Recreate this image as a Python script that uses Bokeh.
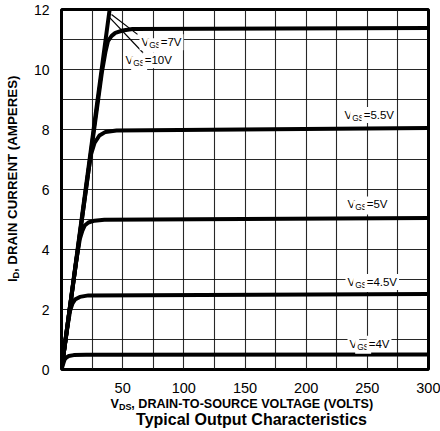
import math
from bokeh.plotting import figure
from bokeh.models import FixedTicker, Label, Range1d
from bokeh.layouts import row, column
from bokeh.embed import file_html
from bokeh.resources import INLINE

# ---------------- data ----------------
vds_4 = [0, 1.5, 2.5, 4, 6, 10, 20, 300]
id_4 = [0, 0.2, 0.33, 0.4, 0.45, 0.48, 0.49, 0.5]

vds_45 = [0, 5, 7, 9, 11, 15, 22, 300]
id_45 = [0, 1.45, 1.95, 2.2, 2.33, 2.42, 2.47, 2.52]

vds_5 = [0, 12, 15, 17, 19, 22, 27, 35, 300]
id_5 = [0, 3.6, 4.35, 4.62, 4.8, 4.9, 4.96, 4.99, 5.05]

vds_55 = [0, 15, 20, 22, 24, 27, 31, 36, 45, 300]
id_55 = [0, 4.5, 6.0, 6.6, 7.15, 7.55, 7.8, 7.92, 7.97, 8.05]

vds_7 = [0, 20, 33, 36, 38, 41, 44, 50, 58, 300]
id_7 = [0, 6.0, 9.9, 10.6, 10.95, 11.12, 11.22, 11.3, 11.35, 11.38]

vds_10 = [0, 20, 40, 44]
id_10 = [0, 6.1, 12.2, 13.4]

curve_names = ["4V", "4.5V", "5V", "5.5V", "7V", "10V"]

x_ticks = [50, 100, 150, 200, 250, 300]
y_ticks = [0, 2, 4, 6, 8, 10, 12]
x_grid = [0, 25, 50, 75, 100, 125, 150, 175, 200, 225, 250, 275, 300]
y_grid = [0, 1, 2, 3, 4, 5, 6, 7, 8, 9, 10, 11, 12]

# ---------------- layout ----------------
W, H = 440, 431
LW = 25            # width of the left strip holding the y title
PH = 395           # height of the main figure
FONT = "Liberation Sans"

FX0, FX1 = 61, 428     # frame edges in page px
FY0, FY1 = 9, 371

ML = FX0 - LW
MR = W - FX1
MT = FY0
MB = PH - FY1


def vx(px):
    return (px - FX0) / ((FX1 - FX0) / 300.0)


def iy(py):
    return (FY1 - py) / ((FY1 - FY0) / 12.0)


p = figure(width=W - LW, height=PH, output_backend="svg", toolbar_location=None,
           x_range=Range1d(0, 300), y_range=Range1d(0, 12),
           min_border_left=ML, min_border_right=MR,
           min_border_top=MT, min_border_bottom=MB)
p.background_fill_color = "white"
p.border_fill_color = "white"
p.outline_line_color = "black"
p.outline_line_width = 3

p.xaxis.ticker = FixedTicker(ticks=x_ticks)
p.yaxis.ticker = FixedTicker(ticks=y_ticks)
p.xgrid.ticker = FixedTicker(ticks=x_grid)
p.ygrid.ticker = FixedTicker(ticks=y_grid)
for g in (p.xgrid, p.ygrid):
    g.grid_line_color = "#111111"
    g.grid_line_width = 1.1
    g.grid_line_alpha = 0.9

for ax in (p.xaxis, p.yaxis):
    ax.axis_line_color = None
    ax.major_tick_line_color = None
    ax.minor_tick_line_color = None
    ax.major_label_text_font = FONT
    ax.major_label_text_font_size = "14px"
    ax.major_label_text_color = "black"
    ax.major_label_standoff = 6
p.xaxis.major_label_standoff = 7
p.xaxis.major_label_text_font_size = "14.5px"

# curves
for xs, ys in [(vds_4, id_4), (vds_45, id_45), (vds_5, id_5),
               (vds_55, id_55), (vds_7, id_7), (vds_10, id_10)]:
    p.line(xs, ys, line_color="black", line_width=4, line_join="round", line_cap="round")

# leader lines for 7V and 10V labels
p.line([vx(111), vx(137)], [iy(14), iy(34)], line_color="black", line_width=1.2)
p.line([vx(108), vx(143)], [iy(16), iy(53)], line_color="black", line_width=1.2)


def vgs_label(px, py, val, size=11.5):
    sub = size * 0.72
    w_v = 0.667 * size
    w_gs = (0.722 + 0.667) * sub
    kw = dict(text_font=FONT, text_color="black", text_baseline="middle",
              text_align="left", background_fill_color="white", padding=2)
    p.add_layout(Label(x=vx(px), y=iy(py), text="V", text_font_size=f"{size}px", **kw))
    p.add_layout(Label(x=vx(px), y=iy(py), text="GS", x_offset=w_v, y_offset=-3,
                       text_font_size=f"{sub:.1f}px", **kw))
    p.add_layout(Label(x=vx(px), y=iy(py), text="=" + val, x_offset=w_v + w_gs,
                       text_font_size=f"{size}px", **kw))


label_pos = {"7V": (139, 42), "10V": (123, 60), "5.5V": (342, 115),
             "5V": (345, 205), "4.5V": (345, 283), "4V": (347, 345)}
for name in curve_names:
    vgs_label(label_pos[name][0], label_pos[name][1], name)


def strip(w, h):
    f = figure(width=w, height=h, output_backend="svg", toolbar_location=None,
               x_range=Range1d(0, w), y_range=Range1d(h, 0),
               x_axis_location=None, y_axis_location=None,
               min_border_left=0, min_border_right=0,
               min_border_top=0, min_border_bottom=0)
    f.outline_line_color = None
    f.grid.visible = False
    f.background_fill_color = "white"
    f.border_fill_color = "white"
    return f


bold = dict(text_font=FONT, text_font_style="bold", text_color="black",
            text_baseline="middle", text_align="left")

# left strip: y-axis title, reading upward
fy = strip(LW, PH)
yx0, yy0 = 12, 299
ang = math.pi / 2
fy.add_layout(Label(x=yx0, y=yy0, text="I", angle=ang, text_font_size="13.3px", **bold))
fy.add_layout(Label(x=yx0 + 3, y=yy0 - 3.9, text="D", angle=ang,
                    text_font_size="9.4px", **bold))
fy.add_layout(Label(x=yx0, y=yy0 - 10.9, text=", DRAIN CURRENT (AMPERES)", angle=ang,
                    text_font_size="13.3px", **bold))

# bottom strip: x-axis title and caption
BH = H - PH
fb = strip(W, BH)
xs0, ys0 = 110, 403 - PH
fb.add_layout(Label(x=xs0, y=ys0, text="V", text_font_size="12.6px", **bold))
fb.add_layout(Label(x=xs0 + 8.4, y=ys0 + 3, text="DS", text_font_size="9px", **bold))
fb.add_layout(Label(x=xs0 + 20.8, y=ys0, text=", DRAIN-TO-SOURCE VOLTAGE (VOLTS)",
                    text_font_size="12.6px", **bold))
cap = dict(bold)
cap["text_align"] = "center"
fb.add_layout(Label(x=251, y=419 - PH, text="Typical Output Characteristics",
                    text_font_size="16px", **cap))

layout = column(row(fy, p, spacing=0), fb, spacing=0)
open("out.html", "w").write(file_html(layout, INLINE))
